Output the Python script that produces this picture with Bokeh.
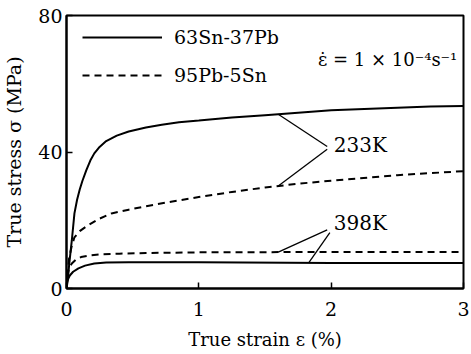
from bokeh.plotting import figure
from bokeh.models import Range1d, Legend, LegendItem, Label, FixedTicker
from bokeh.embed import file_html
from bokeh.resources import INLINE
import numpy as np

# ---- data ----
sn_233_x = [0, 0.01, 0.02, 0.03, 0.04, 0.06, 0.08, 0.10, 0.12, 0.15, 0.18, 0.21, 0.25, 0.30,
            0.38, 0.47, 0.60, 0.72, 0.85, 1.0, 1.25, 1.5, 1.75, 2.0, 2.25, 2.5, 2.75, 3.0]
sn_233_y = [0, 2.5, 7, 10.5, 14, 22, 26, 29, 31.5, 34.7, 37.5, 39.6, 41.5, 43.2,
            44.8, 46, 47.2, 48, 48.7, 49.2, 50.1, 50.8, 51.5, 52.2, 52.6, 53, 53.3, 53.5]

pb_233_x = [0, 0.01, 0.02, 0.04, 0.06, 0.10, 0.15, 0.24, 0.34, 0.47, 0.6, 0.8, 1.0, 1.25,
            1.5, 1.75, 2.0, 2.5, 3.0]
pb_233_y = [0, 5, 9, 12.5, 15, 16.8, 18.2, 20.3, 22, 23.1, 24.1, 25.5, 26.8, 28.3,
            29.6, 30.7, 31.6, 33.2, 34.4]

pb_398_x = [0, 0.01, 0.02, 0.04, 0.07, 0.11, 0.18, 0.26, 0.4, 0.6, 1.0, 2.0, 3.0]
pb_398_y = [0, 4.5, 6.0, 7.3, 8.4, 9.2, 9.7, 10.0, 10.2, 10.4, 10.6, 10.7, 10.7]

sn_398_x = [0, 0.005, 0.015, 0.025, 0.05, 0.09, 0.14, 0.21, 0.3, 0.47, 1.0, 2.0, 3.0]
sn_398_y = [0, 2.0, 3.0, 3.8, 4.9, 5.9, 6.7, 7.3, 7.6, 7.7, 7.7, 7.5, 7.5]

x_ticks = [0, 1, 2, 3]
y_ticks = [0, 40, 80]

series_labels = ["63Sn-37Pb", "95Pb-5Sn"]
temp_labels = ["233K", "398K"]
rate_text = "\u03b5\u0307 = 1 \u00d7 10\u207b\u2074s\u207b\u00b9"

# leader-line anchors: strain value on each curve where the leader touches
lead_233_x = [1.6, 1.6]      # on sn_233, pb_233
lead_398_x = [1.6, 1.83]     # on pb_398, sn_398

FONT = "DejaVu Serif"

p = figure(width=471, height=354, output_backend="svg", toolbar_location=None,
           x_range=Range1d(0, 3), y_range=Range1d(0, 80),
           min_border_left=64, min_border_right=8, min_border_top=15, min_border_bottom=66)
p.background_fill_color = "white"
p.border_fill_color = "white"
p.grid.visible = False
p.outline_line_color = "black"
p.outline_line_width = 2

for ax in (p.xaxis[0], p.yaxis[0]):
    ax.axis_line_width = 2
    ax.axis_line_color = "black"
    ax.major_tick_in = 6
    ax.major_tick_out = 0
    ax.major_tick_line_width = 1.5
    ax.minor_tick_line_color = None
    ax.major_label_text_font = FONT
    ax.major_label_text_font_size = "19px"
    ax.major_label_text_color = "black"
    ax.axis_label_text_font = FONT
    ax.axis_label_text_font_style = "normal"
    ax.axis_label_text_color = "black"

p.xaxis[0].ticker = FixedTicker(ticks=x_ticks)
p.yaxis[0].ticker = FixedTicker(ticks=y_ticks)
p.xaxis[0].major_label_standoff = 13
p.yaxis[0].major_label_standoff = 4
p.xaxis[0].axis_label = "True strain \u03b5 (%)"
p.yaxis[0].axis_label = "True stress \u03c3 (MPa)"
p.xaxis[0].axis_label_text_font_size = "18px"
p.yaxis[0].axis_label_text_font_size = "19px"
p.xaxis[0].axis_label_standoff = 10
p.yaxis[0].axis_label_standoff = 10

r_sn233 = p.line(sn_233_x, sn_233_y, line_color="black", line_width=2)
r_sn398 = p.line(sn_398_x, sn_398_y, line_color="black", line_width=2)
r_pb233 = p.line(pb_233_x, pb_233_y, line_color="black", line_width=2, line_dash="7 5")
r_pb398 = p.line(pb_398_x, pb_398_y, line_color="black", line_width=2, line_dash="7 5")

# leader lines
v233 = (1.97, 41.6)
v398 = (1.97, 17.2)
ends_x = lead_233_x + lead_398_x
ends_y = [float(np.interp(lead_233_x[0], sn_233_x, sn_233_y)),
          float(np.interp(lead_233_x[1], pb_233_x, pb_233_y)),
          float(np.interp(lead_398_x[0], pb_398_x, pb_398_y)),
          float(np.interp(lead_398_x[1], sn_398_x, sn_398_y))]
p.segment(x0=[v233[0], v233[0], v398[0], v398[0] + 0.02],
          y0=[v233[1], v233[1] - 0.8, v398[1], v398[1] - 0.8],
          x1=ends_x, y1=ends_y, line_color="black", line_width=1.3)

p.add_layout(Label(x=2.02, y=42, text=temp_labels[0], text_font=FONT,
                   text_font_size="20px", text_baseline="middle", text_color="black"))
p.add_layout(Label(x=2.02, y=19.3, text=temp_labels[1], text_font=FONT,
                   text_font_size="20px", text_baseline="middle", text_color="black"))
p.add_layout(Label(x=1.90, y=67, text=rate_text, text_font=FONT,
                   text_font_size="18px", text_baseline="middle", text_color="black"))

legend = Legend(items=[LegendItem(label=series_labels[0], renderers=[r_sn233]),
                       LegendItem(label=series_labels[1], renderers=[r_pb233])],
                location=(16, 201), padding=0, margin=0, spacing=14,
                glyph_width=80, glyph_height=24, label_height=24, label_standoff=12,
                label_text_font=FONT, label_text_font_size="19px", label_text_color="black",
                background_fill_alpha=0, border_line_color=None)
p.add_layout(legend)

open("out.html", "w").write(file_html(p, INLINE))
